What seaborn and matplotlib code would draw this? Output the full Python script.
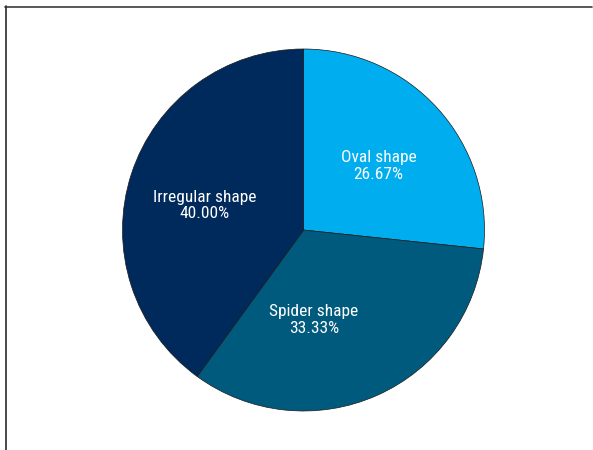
import matplotlib
matplotlib.use("Agg")
import matplotlib.pyplot as plt
from matplotlib import font_manager
from matplotlib.lines import Line2D
import seaborn as sns
import numpy as np

# Shape distribution (percent)
categories = ["Oval shape", "Spider shape", "Irregular shape"]
shares = [26.67, 33.33, 40.00]
colors = ["#00AEEF", "#005A7D", "#002A5C"]

# Label placement: (angle in degrees, radius fraction)
label_spots = [(40.5, 0.545), (-83.3, 0.50), (166, 0.565)]

sns.set_theme(style="white")
names = {f.name for f in font_manager.fontManager.ttflist}
narrow = [n for n in ("Liberation Sans Narrow", "Roboto Condensed", "Open Sans Condensed")
          if n in names]
plt.rcParams["font.family"] = narrow + ["DejaVu Sans"]

fig = plt.figure(figsize=(5.93, 4.5), dpi=100)
W, H = 593, 450
cx, cy, r = 303.5, 230, 181
ax = fig.add_axes([(cx - r) / W, (H - cy - r) / H, 2 * r / W, 2 * r / H])

wedges, _ = ax.pie(
    shares,
    colors=sns.color_palette(colors),
    startangle=90,
    counterclock=False,
    radius=1.0,
    wedgeprops=dict(edgecolor="#1a1a1a", linewidth=0.5),
)
ax.set_xlim(-1, 1)
ax.set_ylim(-1, 1)
ax.set_aspect("equal")
ax.axis("off")

for name, val, (ang, frac) in zip(categories, shares, label_spots):
    a = np.deg2rad(ang)
    ax.text(frac * np.cos(a), frac * np.sin(a), f"{name}\n{val:.2f}%",
            ha="center", va="center", color="white", fontsize=12.5,
            fontstretch="condensed", linespacing=1.12)

# Frame lines along the top and left edge
fig.add_artist(Line2D([5 / W, 592 / W], [1 - 6.5 / H, 1 - 6.5 / H],
                      transform=fig.transFigure, color="#3c3c3c", lw=1.2))
fig.add_artist(Line2D([5.5 / W, 5.5 / W], [1 - 6 / H, 0],
                      transform=fig.transFigure, color="#2a2a2a", lw=1.2))

fig.savefig("out.png", dpi=100)
